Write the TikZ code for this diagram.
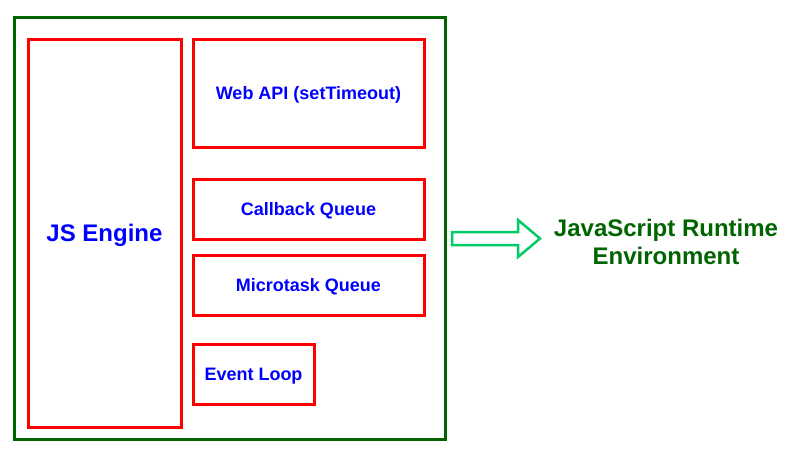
\documentclass[tikz,border=0pt]{standalone}
\usepackage{fontspec}
\setmainfont{Liberation Sans}
\definecolor{envgreen}{RGB}{0,100,0}
\definecolor{arrowgreen}{RGB}{0,204,102}
\definecolor{textblue}{RGB}{0,0,255}
\tikzset{
  partbox/.style={draw=red, line width=3pt, inner sep=0pt, text depth=0pt, font=\bfseries\fontsize{18}{21}\selectfont, text=textblue},
}
\begin{document}
\begin{tikzpicture}[x=1pt,y=-1pt]

\useasboundingbox (0,0) rectangle (803,451);

% outer runtime box
\draw[envgreen, line width=3pt] (14,17) rectangle (445,439);

\node[partbox, minimum width=153pt, minimum height=388pt, font=\bfseries\fontsize{24}{28}\selectfont] (engine) at (104.5,233) {JS Engine};
\node[partbox, minimum width=231pt, minimum height=108pt] (webapi) at (308.5,93) {Web API (setTimeout)};
\node[partbox, minimum width=231pt, minimum height=60pt] (callback) at (308.5,209) {Callback Queue};
\node[partbox, minimum width=231pt, minimum height=60pt] (microtask) at (308.5,285) {Microtask Queue};
\node[partbox, minimum width=121pt, minimum height=60pt] (loop) at (253.5,374) {Event Loop};

% hollow arrow
\draw[arrowgreen, line width=2.5pt, line join=miter]
  (452,232) -- (518,232) -- (518,220) -- (540,238.5) -- (518,257) -- (518,245) -- (452,245) -- cycle;

\node[align=center, text=envgreen, font=\bfseries\fontsize{24}{28}\selectfont] (runtime) at (666,242) {JavaScript Runtime\\ Environment};

\end{tikzpicture}
\end{document}
